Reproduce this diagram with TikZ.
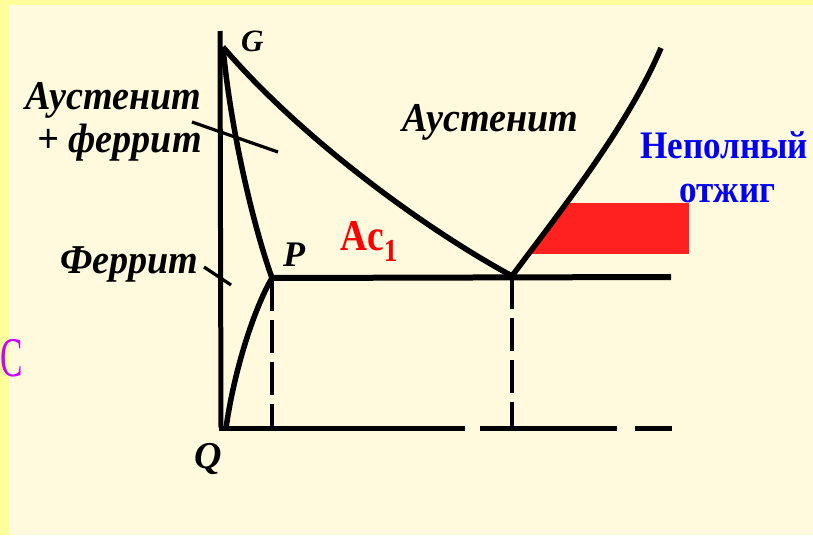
\documentclass[tikz,border=0pt]{standalone}
\usepackage{fontspec}
\setmainfont{Liberation Serif}
\definecolor{outerbg}{RGB}{255,255,153}
\definecolor{innerbg}{RGB}{255,250,222}
\definecolor{redfill}{RGB}{255,32,32}
\definecolor{bluetxt}{RGB}{0,0,245}
\definecolor{violet}{RGB}{204,0,255}
\tikzset{
  thick line/.style={line width=5.5pt, line join=round},
  axisline/.style={line width=5pt},
  leader/.style={line width=3.2pt},
  dashline/.style={line width=3.2pt, dash pattern=on 33pt off 9pt},
  lbl/.style={inner sep=0pt, anchor=base west, text=black},
  ital/.style={lbl, font=\fontsize{41}{41}\selectfont\bfseries\itshape, xscale=0.93},
  pnt/.style={lbl, font=\fontsize{36}{36}\selectfont\bfseries\itshape},
}
\begin{document}
\begin{tikzpicture}[x=1pt,y=-1pt]
\useasboundingbox (0,0) rectangle (813,535);
\clip (0,0) rectangle (813,535);
\fill[outerbg] (0,0) rectangle (813,535);
\fill[innerbg] (9,5) rectangle (813,535);

% key points
\coordinate (Atop) at (220,31);
\coordinate (Q) at (221,428);
\coordinate (G) at (223,47);
\coordinate (P) at (272,278);
\coordinate (S) at (512,276);
\coordinate (E) at (661,48);
\coordinate (K) at (671,277);
\coordinate (Pb) at (272,428);
\coordinate (Sb) at (512,428);
\coordinate (Qc) at (226,428);

% red region, bounded on the left by the curve S-E
\begin{scope}
  \clip (S) .. controls (558,214) and (627,128) .. (E) -- (813,48) -- (813,276) -- cycle;
  \coordinate (R1) at (500,254);
  \coordinate (R3) at (689,203);
  \fill[redfill] (R1) rectangle (R3);
\end{scope}

% axes
\draw[axisline] (Atop) -- (Q);
\coordinate (B1s) at (219,428); \coordinate (B1e) at (465,428);
\coordinate (B2s) at (480,428); \coordinate (B2e) at (617,428);
\coordinate (B3s) at (635,428); \coordinate (B3e) at (672,428);
\draw[axisline] (B1s) -- (B1e);
\draw[axisline] (B2s) -- (B2e);
\draw[axisline] (B3s) -- (B3e);

% dashed verticals
\draw[dashline] (P) -- (Pb);
\draw[dashline] (S) -- (Sb);

% curves
\draw[thick line] (G) .. controls (298,135) and (420,226) .. (S);
\draw[thick line] (G) .. controls (230,125) and (252,222) .. (P);
\draw[thick line] (P) .. controls (256,305) and (235,365) .. (Qc);
\draw[thick line] (S) .. controls (558,214) and (627,128) .. (E);
\draw[line width=6pt] (P) -- (K);

% leader lines
\coordinate (L1a) at (192,122); \coordinate (L1b) at (278,152);
\coordinate (L2a) at (204,267); \coordinate (L2b) at (231,285);
\draw[leader] (L1a) -- (L1b);
\draw[leader] (L2a) -- (L2b);

% labels
\node[ital] (t1) at (25,109) {Аустенит};
\node[ital] (t2) at (37,152) {+ феррит};
\node[ital] (t3) at (402,131) {Аустенит};
\node[ital] (t4) at (60,273) {Феррит};
\node[pnt, font=\fontsize{31}{31}\selectfont\bfseries\itshape] (lG) at (241,52) {G};
\node[pnt] (lP) at (283,266) {P};
\node[pnt, font=\fontsize{38}{38}\selectfont\bfseries\itshape] (lQ) at (194,468) {Q};
\node[lbl, text=bluetxt, font=\fontsize{39}{39}\selectfont\bfseries, xscale=0.9] (t5) at (640,158) {Неполный};
\node[lbl, text=bluetxt, font=\fontsize{39}{39}\selectfont\bfseries, xscale=0.9] (t6) at (679,202) {отжиг};
\node[lbl, text=red, font=\fontsize{44}{44}\selectfont\bfseries, xscale=0.85] (t7) at (340,250) {Ac\raisebox{-11pt}{\fontsize{32}{32}\selectfont 1}};
\node[lbl, text=violet, font=\fontsize{56}{56}\selectfont, xscale=0.6] (t8) at (0,376) {C};
\end{tikzpicture}
\end{document}
